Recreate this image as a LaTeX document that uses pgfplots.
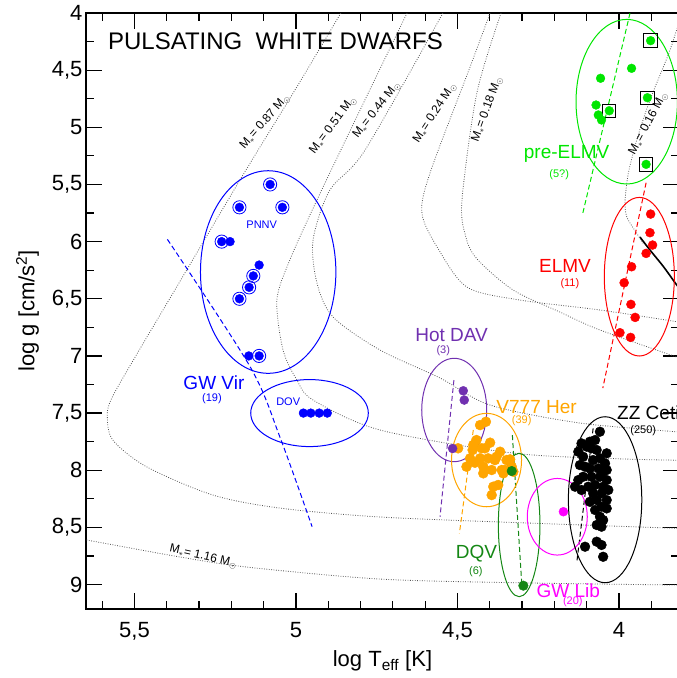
\documentclass[border=0pt]{standalone}
\usepackage{fontspec}
\setmainfont{Liberation Sans}
\usepackage{pgfplots}
\pgfplotsset{compat=1.18}
\definecolor{hotdav}{RGB}{112,48,176}
\definecolor{vorange}{RGB}{255,165,0}
\definecolor{dqvgreen}{RGB}{20,135,20}
\definecolor{pregreen}{RGB}{0,230,0}
\definecolor{gwmag}{RGB}{255,0,255}
\definecolor{trackgray}{RGB}{85,85,85}
\tikzset{track/.style={trackgray, line width=0.8pt, dash pattern=on 0.8pt off 1.6pt, smooth},
  strip/.style={line width=1pt, dash pattern=on 5pt off 3pt},
  ell/.style={line width=1pt},
  big/.style={font=\fontsize{19}{22}\selectfont, inner sep=0pt},
  small/.style={font=\fontsize{11}{13}\selectfont, inner sep=0pt},
  mlab/.style={font=\fontsize{12}{14}\selectfont, inner sep=0pt, black}}
\begin{document}
\begin{tikzpicture}
\begin{axis}[name=ax, scale only axis, width=593pt, height=596pt,
  x dir=reverse, y dir=reverse,
  xmin=3.8142, xmax=5.650, ymin=4, ymax=9.214,
  axis line style={line width=1.2pt},
  every tick/.style={line width=1.2pt, black},
  tick align=inside,
  major tick length=16pt, minor tick length=8pt,
  xtick={4,4.5,5,5.5},
  minor xtick={3.9,4.1,4.2,4.3,4.4,4.6,4.7,4.8,4.9,5.1,5.2,5.3,5.4,5.6},
  ytick={4,4.5,5,5.5,6,6.5,7,7.5,8,8.5,9},
  minor ytick={4.25,4.75,5.25,5.75,6.25,6.75,7.25,7.75,8.25,8.75},
  /pgf/number format/use comma,
  /pgf/number format/assume math mode=true,
  ticklabel style={font=\fontsize{22}{26}\selectfont},
  label style={font=\fontsize{22}{26}\selectfont},
  xticklabel shift=10pt,
  xlabel shift=3pt,
  ylabel shift=6pt,
  xlabel={log T\textsubscript{eff} [K]},
  ylabel={log g [cm/s\textsuperscript{2}]},
  clip=true]

% evolutionary tracks
\addplot[track] coordinates {(4.861,4.0) (5.0,4.66) (5.164,5.417) (5.37,6.40) (5.50,7.02) (5.570,7.368) (5.584,7.52) (5.567,7.736) (5.461,7.972) (5.257,8.217) (5.050,8.331) (4.740,8.409) (4.30,8.46) (3.80,8.51)};
\addplot[track] coordinates {(4.656,4.0) (4.80,4.84) (4.935,5.636) (5.019,6.161) (5.059,6.511) (5.040,6.948) (4.997,7.211) (4.947,7.386) (4.740,7.648) (4.328,7.850) (4.0,7.90) (3.80,7.913)};
\addplot[track] coordinates {(4.545,4.0) (4.786,5.199) (4.895,5.549) (4.947,5.986) (4.935,6.362) (4.885,6.660) (4.740,6.948) (4.554,7.193) (4.399,7.430) (4.121,7.587) (3.80,7.668)};
\addplot[track] coordinates {(4.399,4.0) (4.461,4.472) (4.585,5.40) (4.610,5.75) (4.563,6.047) (4.471,6.397) (4.307,6.511) (4.059,6.598) (3.80,6.71)};
\addplot[track] coordinates {(4.365,4.0) (4.44,4.70) (4.486,5.636) (4.475,5.95) (4.440,6.15) (4.328,6.423) (4.183,6.616) (4.059,6.773) (3.80,7.03)};
\addplot[track] coordinates {(3.80,3.95) (3.842,4.324) (3.904,4.761) (3.945,5.111) (3.971,5.402) (3.981,5.636) (3.976,5.782) (3.945,5.927) (3.925,6.015)};
\addplot[black, line width=1.6pt, smooth] coordinates {(3.935,5.96) (3.905,6.07) (3.862,6.22) (3.821,6.38) (3.80,6.45)};
\addplot[track] coordinates {(5.70,8.59) (5.647,8.611) (5.359,8.759) (5.152,8.847) (4.740,8.952) (4.30,8.985) (3.80,9.005)};

% track labels
\node[mlab, rotate=49] at (axis cs:5.096,4.951) {M\textsubscript{$\ast$}= 0.87 M\textsubscript{$\odot$}};
\node[mlab, rotate=53] at (axis cs:4.885,4.980) {M\textsubscript{$\ast$}= 0.51 M\textsubscript{$\odot$}};
\node[mlab, rotate=52] at (axis cs:4.750,4.849) {M\textsubscript{$\ast$}= 0.44 M\textsubscript{$\odot$}};
\node[mlab, rotate=57] at (axis cs:4.570,4.878) {M\textsubscript{$\ast$}= 0.24 M\textsubscript{$\odot$}};
\node[mlab, rotate=70] at (axis cs:4.408,4.843) {M\textsubscript{$\ast$}= 0.18 M\textsubscript{$\odot$}};
\node[mlab, rotate=62] at (axis cs:3.909,4.965) {M\textsubscript{$\ast$}= 0.16 M\textsubscript{$\odot$}};
\node[mlab, rotate=-13] at (axis cs:5.287,8.757) {M\textsubscript{$\ast$}= 1.16 M\textsubscript{$\odot$}};

% instability strip edges
\addplot[blue, strip, smooth] coordinates {(5.398,5.98) (5.142,7.094) (5.050,7.707) (4.950,8.494)};
\addplot[hotdav, strip] coordinates {(4.511,7.211) (4.554,8.407)};
\addplot[vorange, strip] coordinates {(4.451,7.648) (4.494,8.552)};
\addplot[dqvgreen, strip] coordinates {(4.330,7.692) (4.301,8.99)};
\addplot[black, strip] coordinates {(4.080,7.634) (4.131,8.815)};
\addplot[red, strip] coordinates {(3.916,5.485) (4.050,7.281)};
\addplot[pregreen, strip] coordinates {(3.966,4.003) (4.112,5.752)};

% ellipses
\draw[blue, ell] (axis cs:5.086,6.266) ellipse [x radius=67.7pt, y radius=101.3pt];
\draw[blue, ell] (axis cs:4.958,7.50) ellipse [x radius=58.8pt, y radius=33.5pt];
\draw[hotdav, ell] (axis cs:4.510,7.473) ellipse [x radius=32.5pt, y radius=51.7pt];
\draw[vorange, ell] (axis cs:4.410,7.911) ellipse [x radius=35pt, y radius=46.7pt];
\draw[dqvgreen, ell] (axis cs:4.309,8.479) ellipse [x radius=20.8pt, y radius=71.7pt];
\draw[gwmag, ell] (axis cs:4.191,8.407) ellipse [x radius=30pt, y radius=38.3pt];
\draw[black, ell] (axis cs:4.043,8.258) ellipse [x radius=36.7pt, y radius=83pt];
\draw[red, ell] (axis cs:3.937,6.307) ellipse [x radius=35pt, y radius=79.3pt];
\draw[pregreen, ell] (axis cs:3.976,4.776) ellipse [x radius=50.7pt, y radius=82.3pt];

% PNNV rings
\addplot[only marks, mark=o, mark size=6.6pt, blue, mark options={line width=0.8pt}] coordinates {(5.080,5.50) (5.175,5.70) (5.042,5.70) (5.230,6.0) (5.132,6.30) (5.145,6.40) (5.175,6.50) (5.114,7.0)};
% GW Vir (PNNV + DOV)
\addplot[only marks, mark=*, mark size=4.4pt, blue] coordinates {(5.080,5.50) (5.175,5.70) (5.042,5.70) (5.230,6.0) (5.204,6.0) (5.114,6.205) (5.132,6.30) (5.145,6.40) (5.175,6.50) (5.146,7.0) (5.114,7.0) (4.977,7.50) (4.954,7.50) (4.928,7.50) (4.903,7.50)};

% V777 Her
\addplot[only marks, mark=*, mark size=5pt, vorange] coordinates {(4.412,7.576) (4.430,7.605) (4.441,7.736) (4.451,7.779) (4.399,7.759) (4.415,7.808) (4.368,7.838) (4.379,7.882) (4.348,7.911) (4.461,7.896) (4.430,7.896) (4.405,7.896) (4.472,7.969) (4.446,7.934) (4.420,7.969) (4.394,7.998) (4.420,8.027) (4.363,7.998) (4.337,7.905) (4.332,7.969) (4.353,7.998) (4.389,8.144) (4.374,8.129) (4.394,8.217) (4.358,8.027) (4.327,8.013) (4.453,7.823) (4.425,7.808) (4.384,7.911) (4.498,7.808)};
% Hot DAV
\addplot[only marks, mark=*, mark size=4.5pt, hotdav] coordinates {(4.482,7.305) (4.479,7.386) (4.515,7.81)};
% DQV
\addplot[only marks, mark=*, mark size=4.8pt, dqvgreen] coordinates {(4.332,8.007) (4.296,9.01)};
% GW Lib
\addplot[only marks, mark=*, mark size=4.5pt, gwmag] coordinates {(4.172,8.363)};
% ZZ Ceti
\addplot[only marks, mark=*, mark size=4.9pt, black] coordinates {(4.059,7.663) (4.074,7.736) (4.116,7.765) (4.100,7.794) (4.126,7.838) (4.111,7.882) (4.085,7.808) (4.069,7.823) (4.038,7.852) (4.059,7.896) (4.080,7.911) (4.043,7.940) (4.121,7.955) (4.105,7.969) (4.090,7.984) (4.064,7.984) (4.038,7.998) (4.111,8.057) (4.085,8.057) (4.059,8.057) (4.038,8.086) (4.126,8.086) (4.136,8.144) (4.116,8.173) (4.095,8.144) (4.074,8.129) (4.049,8.144) (4.080,8.202) (4.054,8.202) (4.033,8.173) (4.069,8.261) (4.038,8.261) (4.090,8.276) (4.054,8.319) (4.074,8.348) (4.038,8.334) (4.059,8.407) (4.049,8.436) (4.069,8.479) (4.054,8.494) (4.105,8.669) (4.069,8.625) (4.054,8.654) (4.049,8.757) (4.090,7.75) (4.049,8.013)};
% ELMV
\addplot[only marks, mark=*, mark size=4.5pt, red] coordinates {(3.902,5.759) (3.904,5.922) (3.896,6.030) (3.916,6.103) (3.961,6.220) (3.984,6.360) (3.963,6.549) (3.950,6.663) (3.997,6.797) (3.964,6.838)};
% pre-ELMV
\addplot[only marks, mark=square, mark size=6.7pt, black, mark options={line width=1pt}] coordinates {(3.902,4.242) (3.912,4.741) (4.030,4.855) (3.916,5.324)};
\addplot[only marks, mark=*, mark size=4.4pt, pregreen] coordinates {(3.902,4.242) (3.961,4.484) (4.057,4.571) (3.912,4.741) (4.071,4.805) (4.030,4.855) (4.064,4.892) (4.054,4.936) (3.916,5.324)};

% labels
\node[anchor=west, inner sep=0pt, font=\fontsize{24}{28}\selectfont] at (axis cs:5.582,4.249) {PULSATING\ \ WHITE DWARFS};
\node[big, blue] at (axis cs:5.254,7.237) {GW Vir};
\node[small, blue] at (axis cs:5.260,7.371) {(19)};
\node[small, blue] at (axis cs:5.106,5.855) {PNNV};
\node[small, blue] at (axis cs:5.024,7.401) {DOV};
\node[big, hotdav] at (axis cs:4.518,6.817) {Hot DAV};
\node[small, hotdav] at (axis cs:4.544,6.955) {(3)};
\node[big, vorange] at (axis cs:4.255,7.444) {V777 Her};
\node[small, vorange] at (axis cs:4.301,7.567) {(39)};
\node[big, black, anchor=west] at (axis cs:4.006,7.5) {ZZ Ceti};
\node[small, black] at (axis cs:3.925,7.655) {(250)};
\node[big, dqvgreen] at (axis cs:4.441,8.727) {DQV};
\node[small, dqvgreen] at (axis cs:4.443,8.888) {(6)};
\node[big, gwmag] at (axis cs:4.157,9.054) {GW Lib};
\node[small, gwmag] at (axis cs:4.143,9.150) {(20)};
\node[big, red] at (axis cs:4.167,6.213) {ELMV};
\node[small, red] at (axis cs:4.152,6.365) {(11)};
\node[big, pregreen] at (axis cs:4.162,5.234) {pre-ELMV};
\node[small, pregreen] at (axis cs:4.185,5.417) {(5?)};
\end{axis}
\pgfresetboundingbox
\useasboundingbox ([xshift=-86pt,yshift=-69pt]ax.south west) rectangle ([xshift=-2pt,yshift=13pt]ax.north east);
\end{tikzpicture}
\end{document}
